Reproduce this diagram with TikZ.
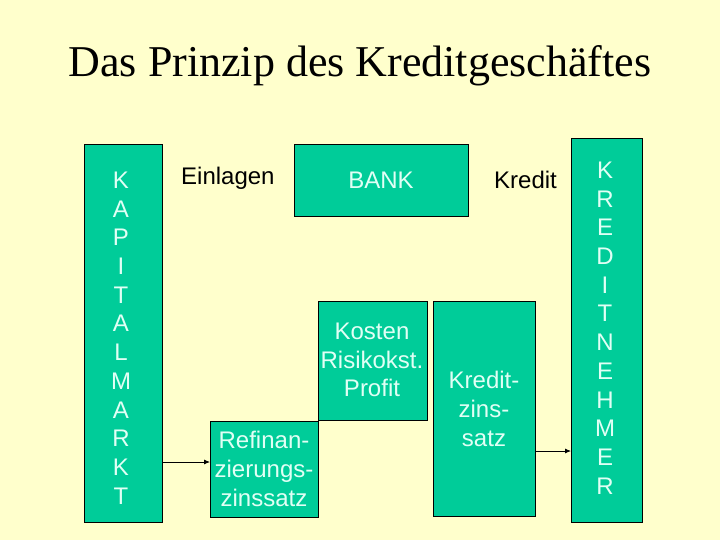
\documentclass[tikz,border=0pt]{standalone}
\usepackage{fontspec}
\setmainfont{Liberation Sans}
\newfontfamily\titlefont{Liberation Serif}
\usetikzlibrary{arrows.meta}
\definecolor{bgyellow}{RGB}{255,255,204}
\definecolor{boxgreen}{RGB}{0,204,153}
\definecolor{boxtext}{RGB}{225,255,245}
\tikzset{
  greenbox/.style={draw=black, line width=0.8pt, fill=boxgreen, inner sep=0pt},
  boxlabel/.style={text=boxtext, font=\fontsize{24}{28.7}\selectfont, align=center, inner sep=0pt},
  plainlabel/.style={text=black, font=\fontsize{24}{28.7}\selectfont, inner sep=0pt},
  flow/.style={-{Latex[length=6pt,width=5pt]}, line width=0.8pt, black}
}
\begin{document}
\begin{tikzpicture}[x=1pt,y=-1pt]
\fill[bgyellow] (0,0) rectangle (720,540);
\useasboundingbox (0,0) rectangle (720,540);

\node[font=\titlefont\fontsize{44}{50}\selectfont, inner sep=0pt] (title) at (360,66) {Das Prinzip des Kreditgeschäftes};

% boxes
\draw[greenbox] (84,144) rectangle (162,522);
\node[inner sep=0pt] (kap) at (123,333) {};
\draw[greenbox] (294,144) rectangle (468,216);
\draw[greenbox] (210,421) rectangle (318,517);
\draw[greenbox] (318,301) rectangle (427,420);
\draw[greenbox] (433,301) rectangle (535,516);
\draw[greenbox] (571,138) rectangle (642,522);

% node anchors for connectors
\coordinate (kapR) at (162,462);
\coordinate (refL) at (210,462);
\coordinate (kzR) at (535,451);
\coordinate (knL) at (571,451);

% texts
\node[boxlabel] (kaptext) at (121,338) {K\\A\\P\\I\\T\\A\\L\\M\\A\\R\\K\\T};
\node[boxlabel] (kntext) at (605,328) {K\\R\\E\\D\\I\\T\\N\\E\\H\\M\\E\\R};
\node[boxlabel] (bank) at (381,180) {BANK};
\node[boxlabel] (kosten) at (372,360) {Kosten\\Risikokst.\\Profit};
\node[boxlabel] (kzins) at (484,409) {Kredit-\\zins-\\satz};
\node[boxlabel] (refin) at (264,469) {Refinan-\\zierungs-\\zinssatz};
\node[plainlabel, anchor=west] (einlagen) at (181,178) {Einlagen};
\node[plainlabel, anchor=west] (kredit) at (494,180) {Kredit};

% arrows
\draw[flow] (kapR) -- (refL);
\draw[flow] (kzR) -- (knL);
\end{tikzpicture}
\end{document}
